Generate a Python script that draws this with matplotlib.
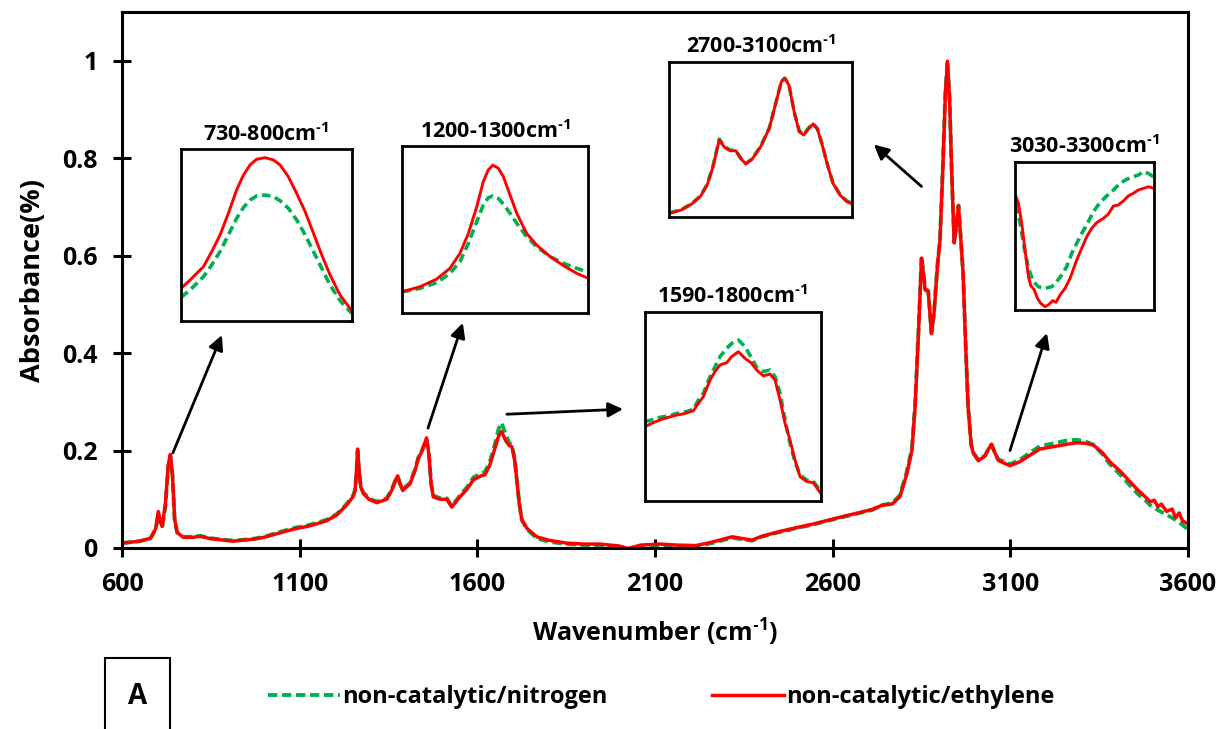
import numpy as np
import matplotlib
matplotlib.use("Agg")
import matplotlib.pyplot as plt
from matplotlib.lines import Line2D
from matplotlib.patches import Rectangle

plt.rcParams['font.family'] = ['Open Sans', 'DejaVu Sans']
plt.rcParams['font.weight'] = 'bold'
plt.rcParams['mathtext.fontset'] = 'custom'
plt.rcParams['mathtext.rm'] = 'Open Sans:bold'
plt.rcParams['mathtext.default'] = 'rm'

GREEN = '#00B050'
RED = '#FF0000'

##### Main spectrum #####
red_wn = [600, 650, 680, 695, 702, 708, 713, 722, 730, 736, 742, 748, 755, 772, 800, 820, 850, 913,
          970, 1000, 1054, 1090, 1120, 1150, 1176, 1205, 1232, 1250, 1256, 1260, 1263, 1267, 1272,
          1279, 1295, 1317, 1345, 1360, 1370, 1376, 1382, 1390, 1400, 1410, 1425, 1434, 1445, 1457,
          1464, 1470, 1476, 1495, 1514, 1528, 1540, 1551, 1570, 1589, 1610, 1621, 1635, 1645, 1660,
          1668, 1680, 1690, 1697, 1705, 1711, 1718, 1725, 1740, 1767, 1800, 1851, 1900, 1945, 2000,
          2024, 2060, 2114, 2160, 2215, 2260, 2317, 2373, 2400, 2452, 2500, 2550, 2609, 2660, 2711,
          2740, 2767, 2789, 2808, 2823, 2832, 2842, 2850, 2856, 2860, 2869, 2878, 2885, 2895, 2902,
          2910, 2917, 2923, 2929, 2935, 2942, 2948, 2954, 2960, 2967, 2974, 2981, 2990, 2996, 3010,
          3029, 3040, 3047, 3055, 3066, 3080, 3099, 3127, 3150, 3183, 3230, 3260, 3287, 3310, 3334,
          3360, 3380, 3410, 3437, 3460, 3480, 3493, 3505, 3515, 3525, 3540, 3555, 3565, 3575, 3585,
          3600]
red_abs = [0.010, 0.014, 0.020, 0.040, 0.075, 0.055, 0.044, 0.090, 0.170, 0.192, 0.150, 0.060, 0.032,
           0.022, 0.022, 0.024, 0.019, 0.014, 0.018, 0.022, 0.033, 0.040, 0.044, 0.050, 0.056, 0.068,
           0.088, 0.105, 0.118, 0.160, 0.203, 0.160, 0.125, 0.112, 0.100, 0.093, 0.100, 0.120, 0.140,
           0.148, 0.132, 0.118, 0.125, 0.131, 0.160, 0.184, 0.200, 0.226, 0.190, 0.130, 0.105, 0.100,
           0.100, 0.084, 0.095, 0.105, 0.120, 0.140, 0.148, 0.150, 0.170, 0.194, 0.230, 0.239, 0.220,
           0.210, 0.208, 0.180, 0.140, 0.090, 0.058, 0.040, 0.023, 0.016, 0.010, 0.008, 0.008, 0.004,
           -0.001, 0.006, 0.008, 0.006, 0.005, 0.012, 0.023, 0.016, 0.024, 0.034, 0.042, 0.050, 0.061,
           0.070, 0.079, 0.088, 0.090, 0.105, 0.150, 0.200, 0.290, 0.450, 0.595, 0.560, 0.530, 0.526,
           0.440, 0.480, 0.580, 0.632, 0.780, 0.930, 0.999, 0.920, 0.770, 0.626, 0.660, 0.702, 0.640,
           0.564, 0.420, 0.290, 0.210, 0.194, 0.179, 0.189, 0.205, 0.213, 0.198, 0.180, 0.175, 0.169,
           0.177, 0.188, 0.203, 0.209, 0.213, 0.216, 0.215, 0.211, 0.195, 0.177, 0.157, 0.136, 0.118,
           0.105, 0.095, 0.098, 0.085, 0.090, 0.075, 0.080, 0.062, 0.072, 0.055, 0.050]

green_wn = [600, 650, 680, 695, 702, 708, 713, 722, 730, 736, 742, 748, 755, 772, 800, 820, 850, 913,
            970, 1000, 1054, 1090, 1120, 1150, 1176, 1205, 1232, 1250, 1256, 1260, 1263, 1267, 1272,
            1279, 1295, 1317, 1345, 1360, 1370, 1376, 1382, 1390, 1400, 1410, 1425, 1434, 1445, 1457,
            1464, 1470, 1476, 1495, 1514, 1528, 1540, 1551, 1570, 1589, 1610, 1621, 1635, 1645, 1660,
            1668, 1680, 1690, 1697, 1705, 1711, 1718, 1725, 1740, 1767, 1800, 1851, 1900, 1945, 2000,
            2024, 2060, 2114, 2160, 2215, 2260, 2317, 2373, 2400, 2452, 2500, 2550, 2609, 2660, 2711,
            2740, 2767, 2789, 2808, 2823, 2832, 2842, 2850, 2856, 2860, 2869, 2878, 2885, 2895, 2902,
            2910, 2917, 2923, 2929, 2935, 2942, 2948, 2954, 2960, 2967, 2974, 2981, 2990, 2996, 3010,
            3029, 3040, 3047, 3055, 3066, 3080, 3099, 3127, 3150, 3183, 3230, 3260, 3287, 3310, 3334,
            3360, 3380, 3410, 3437, 3460, 3480, 3493, 3515, 3540, 3565, 3585, 3600]
green_abs = [0.010, 0.014, 0.020, 0.038, 0.070, 0.052, 0.042, 0.085, 0.165, 0.188, 0.148, 0.058, 0.032,
             0.023, 0.023, 0.025, 0.020, 0.015, 0.019, 0.023, 0.035, 0.042, 0.046, 0.052, 0.058, 0.070,
             0.090, 0.107, 0.120, 0.158, 0.198, 0.158, 0.126, 0.114, 0.102, 0.095, 0.102, 0.122, 0.140,
             0.146, 0.133, 0.120, 0.127, 0.133, 0.162, 0.186, 0.202, 0.224, 0.190, 0.132, 0.108, 0.102,
             0.102, 0.086, 0.097, 0.108, 0.124, 0.145, 0.153, 0.156, 0.177, 0.200, 0.245, 0.257, 0.232,
             0.215, 0.212, 0.184, 0.142, 0.092, 0.058, 0.038, 0.020, 0.013, 0.008, 0.006, 0.006, 0.002,
             -0.003, 0.004, 0.006, 0.004, 0.003, 0.010, 0.021, 0.015, 0.023, 0.033, 0.041, 0.049, 0.060,
             0.069, 0.078, 0.088, 0.092, 0.108, 0.155, 0.205, 0.295, 0.455, 0.598, 0.562, 0.532, 0.528,
             0.442, 0.482, 0.582, 0.634, 0.782, 0.932, 0.999, 0.922, 0.772, 0.628, 0.662, 0.703, 0.642,
             0.566, 0.422, 0.292, 0.212, 0.196, 0.181, 0.190, 0.206, 0.212, 0.198, 0.182, 0.178, 0.172,
             0.181, 0.193, 0.209, 0.216, 0.221, 0.222, 0.219, 0.212, 0.192, 0.172, 0.150, 0.128, 0.110,
             0.098, 0.088, 0.078, 0.068, 0.058, 0.047, 0.038]

##### Zoomed regions (normalised absorbance inside each box) #####
ins1_wn = [730.0, 733.7, 739.2, 742.6, 746.0, 749.4, 752.8, 755.6, 758.3, 761.0, 764.5, 767.9, 770.6,
           774.0, 777.4, 780.9, 784.3, 787.7, 791.1, 795.2, 800.0]
ins1_red = [0.189, 0.237, 0.315, 0.403, 0.500, 0.626, 0.763, 0.850, 0.909, 0.942, 0.951, 0.938, 0.909,
            0.840, 0.743, 0.636, 0.510, 0.383, 0.267, 0.150, 0.058]
ins1_green = [0.136, 0.179, 0.257, 0.325, 0.403, 0.500, 0.597, 0.661, 0.704, 0.728, 0.733, 0.724, 0.700,
              0.656, 0.588, 0.500, 0.403, 0.305, 0.208, 0.117, 0.043]

ins2_wn = [1200.0, 1209.5, 1218.5, 1225.6, 1231.0, 1235.5, 1240.0, 1243.5, 1246.2, 1248.6, 1251.6,
           1254.3, 1257.9, 1261.5, 1266.8, 1272.2, 1279.4, 1286.6, 1293.7, 1300.0]
ins2_red = [0.129, 0.159, 0.205, 0.269, 0.359, 0.478, 0.637, 0.787, 0.857, 0.886, 0.867, 0.817, 0.707,
            0.598, 0.478, 0.408, 0.339, 0.285, 0.239, 0.209]
ins2_green = [0.129, 0.149, 0.183, 0.239, 0.309, 0.418, 0.548, 0.647, 0.691, 0.701, 0.687, 0.653, 0.598,
              0.538, 0.458, 0.398, 0.339, 0.299, 0.269, 0.245]

ins3_wn = [1590.0, 1600.0, 1607.9, 1617.9, 1627.9, 1635.8, 1647.8, 1653.8, 1659.7, 1667.7, 1673.7,
           1679.7, 1687.6, 1693.6, 1701.6, 1709.5, 1717.5, 1723.5, 1731.5, 1739.4, 1745.4, 1751.4,
           1757.4, 1763.3, 1769.3, 1775.3, 1783.3, 1791.2, 1800.0]
ins3_red = [0.392, 0.413, 0.427, 0.441, 0.453, 0.459, 0.476, 0.515, 0.550, 0.638, 0.683, 0.718, 0.730,
            0.762, 0.788, 0.753, 0.727, 0.691, 0.660, 0.670, 0.638, 0.533, 0.409, 0.321, 0.215, 0.127,
            0.101, 0.095, 0.039]
ins3_green = [0.418, 0.430, 0.441, 0.448, 0.462, 0.466, 0.483, 0.533, 0.568, 0.656, 0.709, 0.762, 0.806,
              0.832, 0.850, 0.815, 0.753, 0.705, 0.683, 0.691, 0.656, 0.568, 0.427, 0.303, 0.206, 0.136,
              0.109, 0.101, 0.053]

ins4_wn = [2700.0, 2726.4, 2749.1, 2767.9, 2783.0, 2795.8, 2809.4, 2820.8, 2833.6, 2845.7, 2856.2,
           2867.5, 2881.1, 2900.0, 2918.9, 2934.0, 2945.3, 2952.8, 2961.9, 2974.0, 2984.5, 2994.3,
           3005.7, 3014.7, 3024.5, 3035.8, 3047.2, 3058.5, 3073.6, 3088.7, 3100.0]
ins4_red = [0.026, 0.047, 0.086, 0.133, 0.208, 0.325, 0.497, 0.450, 0.428, 0.428, 0.379, 0.343, 0.373,
            0.454, 0.572, 0.743, 0.872, 0.893, 0.850, 0.668, 0.550, 0.529, 0.572, 0.600, 0.565, 0.454,
            0.325, 0.218, 0.143, 0.101, 0.086]
ins4_green = [0.028, 0.049, 0.088, 0.136, 0.212, 0.330, 0.503, 0.455, 0.431, 0.430, 0.381, 0.345, 0.375,
              0.456, 0.574, 0.745, 0.874, 0.895, 0.852, 0.672, 0.555, 0.534, 0.577, 0.604, 0.569, 0.458,
              0.330, 0.222, 0.147, 0.105, 0.090]

ins5_red_wn = [3032.0, 3036.5, 3042.9, 3049.4, 3055.8, 3060.4, 3066.8, 3073.3, 3079.7, 3088.1, 3095.9,
               3103.0, 3109.4, 3117.2, 3126.9, 3136.6, 3149.5, 3159.2, 3168.9, 3178.6, 3188.3, 3201.2,
               3210.9, 3220.6, 3230.2, 3239.9, 3249.6, 3259.3, 3269.0, 3278.7, 3288.4, 3300.0]
ins5_red = [0.764, 0.719, 0.584, 0.404, 0.225, 0.164, 0.139, 0.079, 0.045, 0.022, 0.038, 0.063, 0.052,
            0.101, 0.146, 0.213, 0.337, 0.416, 0.494, 0.551, 0.589, 0.618, 0.647, 0.701, 0.708, 0.735,
            0.769, 0.787, 0.809, 0.820, 0.831, 0.820]
ins5_green_wn = [3031.9, 3039.7, 3047.4, 3055.8, 3065.5, 3075.2, 3088.1, 3101.1, 3110.7, 3120.4, 3130.1,
                 3139.8, 3149.5, 3159.2, 3168.9, 3181.8, 3194.7, 3207.6, 3220.6, 3233.5, 3246.4, 3259.3,
                 3269.0, 3278.7, 3288.4, 3300.0]
ins5_green = [0.708, 0.584, 0.427, 0.281, 0.191, 0.157, 0.146, 0.157, 0.191, 0.236, 0.292, 0.382, 0.449,
              0.517, 0.573, 0.663, 0.724, 0.769, 0.809, 0.854, 0.881, 0.899, 0.910, 0.933, 0.921, 0.894]

x_ticks = [600, 1100, 1600, 2100, 2600, 3100, 3600]
y_ticks = [0, 0.2, 0.4, 0.6, 0.8, 1]
y_tick_labels = ['0', '0.2', '0.4', '0.6', '0.8', '1']

# superscript "-1" with a short hyphen like the original (mathtext would turn '-' into a long minus)
SUP = '$^{\u2010 1}$'

fig = plt.figure(figsize=(12.24, 7.29), dpi=100)
ax = fig.add_axes([0.0997, 0.2483, 0.8709, 0.7352])

ax.plot(green_wn, green_abs, color=GREEN, lw=2.8, dashes=(2.4, 1.2), label='non-catalytic/nitrogen')
ax.plot(red_wn, red_abs, color=RED, lw=2.5, label='non-catalytic/ethylene')

ax.set_xlim(600, 3600)
ax.set_ylim(0, 1.1)
ax.set_xticks(x_ticks)
ax.set_yticks(y_ticks)
ax.set_yticklabels(y_tick_labels)
ax.tick_params(direction='inout', length=13, width=2.2, labelsize=18, pad=11)
for s in ax.spines.values():
    s.set_linewidth(2.2)
ax.set_xlabel('Wavenumber (cm' + SUP + ')', fontsize=18, fontweight='bold', labelpad=14)
ax.set_ylabel('Absorbance(%)', fontsize=19.5, fontweight='bold', labelpad=12)

# arrows from spectrum features to the zoom boxes
arrows = [((743, 0.195), (881, 0.437)),
          ((1461, 0.246), (1559, 0.462)),
          ((1683, 0.2745), (2010, 0.285)),
          ((2850, 0.742), (2716, 0.828)),
          ((3099, 0.200), (3203, 0.441))]
for tail, head in arrows:
    ax.annotate('', xy=head, xytext=tail,
                arrowprops=dict(arrowstyle='-|>', color='black', lw=2, mutation_scale=22,
                                shrinkA=0, shrinkB=0))

##### Insets #####
insets = [
    ([0.1479, 0.5601, 0.1395, 0.2351], '730-800cm' + SUP, (730, 800),
     ins1_wn, ins1_green, ins1_wn, ins1_red),
    ([0.3287, 0.5702, 0.1520, 0.2295], '1200-1300cm' + SUP, (1200, 1300),
     ins2_wn, ins2_green, ins2_wn, ins2_red),
    ([0.5270, 0.3132, 0.1435, 0.2593], '1590-1800cm' + SUP, (1590, 1800),
     ins3_wn, ins3_green, ins3_wn, ins3_red),
    ([0.5468, 0.7019, 0.1493, 0.2134], '2700-3100cm' + SUP, (2700, 3100),
     ins4_wn, ins4_green, ins4_wn, ins4_red),
    ([0.8293, 0.5748, 0.1138, 0.2034], '3030-3300cm' + SUP, (3030, 3300),
     ins5_green_wn, ins5_green, ins5_red_wn, ins5_red),
]
for rect, title, xl, gx, gy, rx, ry in insets:
    ia = fig.add_axes(rect)
    ia.plot(gx, gy, color=GREEN, lw=2.6, dashes=(2.4, 1.3))
    ia.plot(rx, ry, color=RED, lw=2.1)
    ia.set_xlim(*xl)
    ia.set_ylim(0, 1)
    ia.set_xticks([])
    ia.set_yticks([])
    for s in ia.spines.values():
        s.set_linewidth(2.0)
    ia.set_title(title, fontsize=15.5, fontweight='bold', pad=6)

# panel letter box
fig.patches.append(Rectangle((0.0858, -0.05), 0.0531, 0.1474, transform=fig.transFigure,
                             fill=False, ec='black', lw=1.5))
fig.text(0.112, 0.044, 'A', fontsize=20, fontweight='bold', ha='center', va='center')

handles = [Line2D([], [], color=GREEN, lw=2.8, dashes=(2.4, 1.2)),
           Line2D([], [], color=RED, lw=2.5)]
fig.legend(handles, ['non-catalytic/nitrogen', 'non-catalytic/ethylene'], ncol=2,
           loc='center left', bbox_to_anchor=(0.219, 0.044), frameon=False, fontsize=17,
           handlelength=3.05, handletextpad=0.1, columnspacing=4.4, borderpad=0, borderaxespad=0)

fig.savefig('out.png', dpi=100)
